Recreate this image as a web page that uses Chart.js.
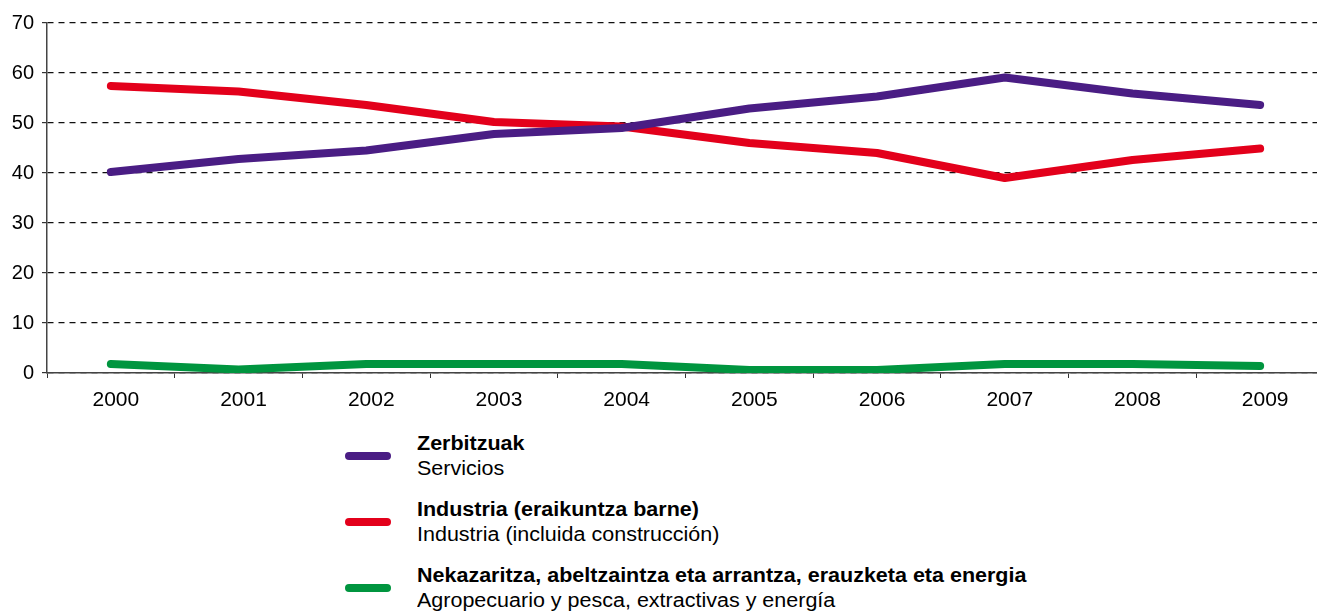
<!DOCTYPE html>
<html>
<head>
<meta charset="utf-8">
<script src="https://cdn.jsdelivr.net/npm/chart.js@4"></script>
<style>
  html, body { margin: 0; padding: 0; background: #fff; width: 1317px; height: 612px; overflow: hidden; }
  #wrap { position: absolute; left: 0; top: 0; width: 1324px; height: 415px; }
  .mark { position: absolute; left: 345px; width: 46px; height: 8px; border-radius: 4px; }
  .txt { position: absolute; left: 417px; font-family: "Liberation Sans", Arial, sans-serif; font-size: 20px; line-height: 25px; color: #000; transform: scaleX(1.075); transform-origin: 0 0; white-space: nowrap; }
  .txt b { font-weight: bold; }
</style>
</head>
<body>
<div id="wrap"><canvas id="c" width="1324" height="415"></canvas></div>
<div id="legend"></div>
<script>
const years = ['2000','2001','2002','2003','2004','2005','2006','2007','2008','2009'];
const zerbitzuak = [40.2, 42.8, 44.5, 47.8, 49.0, 52.9, 55.3, 59.1, 55.9, 53.6];
const industria  = [57.4, 56.3, 53.6, 50.2, 49.3, 46.0, 44.0, 39.0, 42.6, 44.9];
const nekazaritza = [1.8, 0.7, 1.8, 1.8, 1.8, 0.6, 0.6, 1.8, 1.8, 1.4];
const seriesNames = [
  ['Zerbitzuak', 'Servicios'],
  ['Industria (eraikuntza barne)', 'Industria (incluida construcción)'],
  ['Nekazaritza, abeltzaintza eta arrantza, erauzketa eta energia', 'Agropecuario y pesca, extractivas y energía']
];
const colors = ['#4a1d84', '#e3001b', '#00953f'];
const yTicks = { min: 0, max: 70, step: 10 };

// HTML legend
const legend = document.getElementById('legend');
const markTops = [452, 518, 584];
const textTops = [431, 497, 563];
seriesNames.forEach((n, i) => {
  const m = document.createElement('div');
  m.className = 'mark';
  m.style.top = markTops[i] + 'px';
  m.style.background = colors[i];
  legend.appendChild(m);
  const t = document.createElement('div');
  t.className = 'txt';
  t.style.top = textTops[i] + 'px';
  t.innerHTML = '<b>' + n[0] + '</b><br>' + n[1];
  legend.appendChild(t);
});

const yFont = { family: '"Liberation Sans", Arial, sans-serif', size: 20 };
const xFont = { family: '"Liberation Sans", Arial, sans-serif', size: 21 };
new Chart(document.getElementById('c'), {
  type: 'line',
  data: {
    labels: years,
    datasets: [
      { label: seriesNames[0][0], data: zerbitzuak, borderColor: colors[0] },
      { label: seriesNames[1][0], data: industria, borderColor: colors[1] },
      { label: seriesNames[2][0], data: nekazaritza, borderColor: colors[2] }
    ]
  },
  options: {
    responsive: false,
    devicePixelRatio: 1,
    animation: false,
    layout: { padding: { top: 23, right: 0, left: 0, bottom: 0 } },
    elements: {
      line: { borderWidth: 8, borderCapStyle: 'round', borderJoinStyle: 'round', tension: 0, fill: false },
      point: { radius: 0, hoverRadius: 0 }
    },
    plugins: { legend: { display: false }, tooltip: { enabled: false } },
    scales: {
      x: {
        type: 'category',
        offset: true,
        grid: { offset: true, drawOnChartArea: false, drawTicks: true, tickLength: 5, color: '#333', tickBorderDash: [] },
        border: { display: true, color: '#444', width: 1.5 },
        ticks: { font: xFont, color: '#000', padding: 10, labelOffset: 5, maxRotation: 0, autoSkip: false },
        afterFit: s => { s.height = 42; }
      },
      y: {
        min: yTicks.min, max: yTicks.max,
        ticks: { stepSize: yTicks.step, font: yFont, color: '#000', padding: 8 },
        grid: { color: '#111', lineWidth: 1.2, tickLength: 5, tickColor: '#333', tickBorderDash: [] },
        border: { display: true, color: '#444', width: 1.5, dash: [6, 5] },
        afterFit: s => { s.width = 47; }
      }
    }
  }
});
</script>
</body>
</html>
